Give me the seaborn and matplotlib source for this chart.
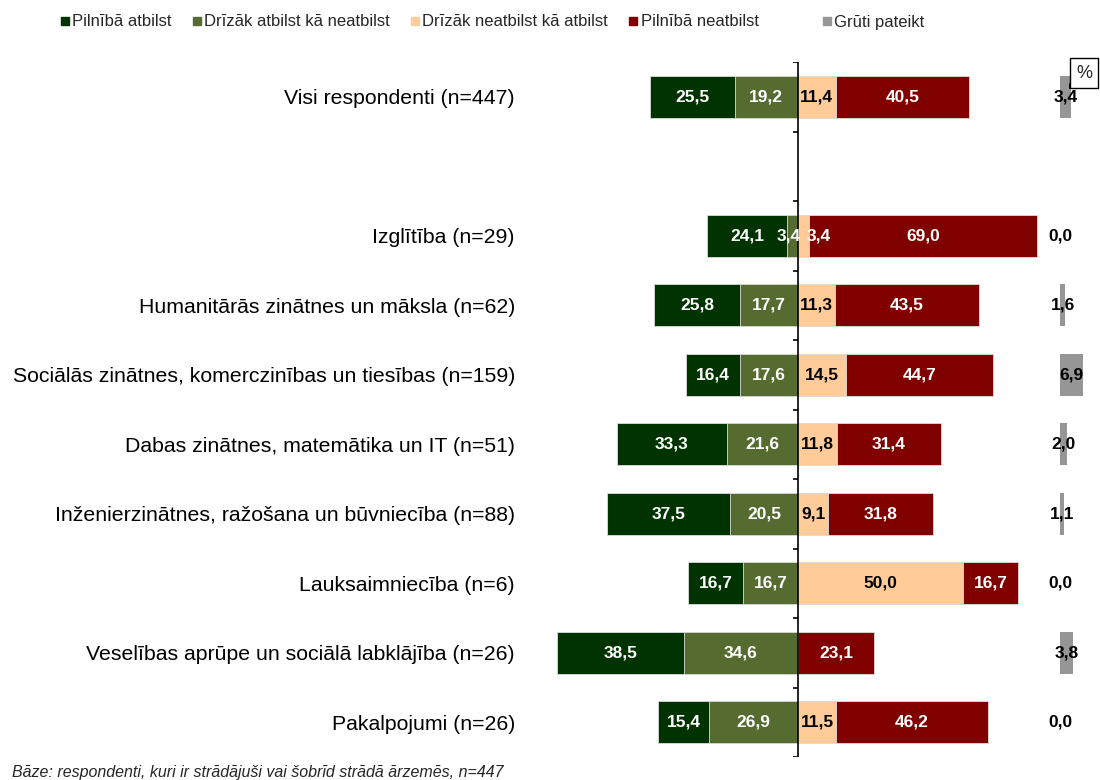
import numpy as np
import matplotlib
matplotlib.use('Agg')
import matplotlib.pyplot as plt
from matplotlib.lines import Line2D
import pandas as pd
import seaborn as sns

groups = ['Visi respondenti (n=447)', ' ', 'Izglītība (n=29)',
          'Humanitārās zinātnes un māksla (n=62)',
          'Sociālās zinātnes, komerczinības un tiesības (n=159)',
          'Dabas zinātnes, matemātika un IT (n=51)',
          'Inženierzinātnes, ražošana un būvniecība (n=88)',
          'Lauksaimniecība (n=6)',
          'Veselības aprūpe un sociālā labklājība (n=26)',
          'Pakalpojumi (n=26)']
full_yes = [25.5, np.nan, 24.1, 25.8, 16.4, 33.3, 37.5, 16.7, 38.5, 15.4]
rather_yes = [19.2, np.nan, 3.4, 17.7, 17.6, 21.6, 20.5, 16.7, 34.6, 26.9]
rather_no = [11.4, np.nan, 3.4, 11.3, 14.5, 11.8, 9.1, 50.0, 0.0, 11.5]
full_no = [40.5, np.nan, 69.0, 43.5, 44.7, 31.4, 31.8, 16.7, 23.1, 46.2]
hard_say = [3.4, np.nan, 0.0, 1.6, 6.9, 2.0, 1.1, 0.0, 3.8, 0.0]

legend_labels = ['Pilnībā atbilst', 'Drīzāk atbilst kā neatbilst',
                 'Drīzāk neatbilst kā atbilst', 'Pilnībā neatbilst', 'Grūti pateikt']
colors = ['#003300', '#556B2F', '#FFCC99', '#800000', '#969696']

sns.set_style('white')
plt.rcParams['font.family'] = ['Liberation Sans', 'DejaVu Sans']

df = pd.DataFrame({'group': groups, 'full_yes': full_yes, 'rather_yes': rather_yes,
                   'rather_no': rather_no, 'full_no': full_no, 'hard': hard_say})
df['left_total'] = -(df['full_yes'] + df['rather_yes'])
df['left_inner'] = -df['rather_yes']
df['right_total'] = df['rather_no'] + df['full_no']

W, H = 1100, 780
fig = plt.figure(figsize=(11, 7.8), dpi=100)
px = 3.3  # pixels per percent
ax_l, ax_r, zero_px = 540, 1050, 798
top_px, bot_px = 62, 757
ax = fig.add_axes([ax_l / W, 1 - bot_px / H, (ax_r - ax_l) / W, (bot_px - top_px) / H])

bar_kw = dict(y='group', order=groups, orient='h', width=0.6, saturation=1,
              errorbar=None, edgecolor='#dddddd', linewidth=0.6, ax=ax)
sns.barplot(data=df, x='left_total', color=colors[0], **bar_kw)
sns.barplot(data=df, x='left_inner', color=colors[1], **bar_kw)
sns.barplot(data=df, x='right_total', color=colors[3], **bar_kw)
sns.barplot(data=df, x='rather_no', color=colors[2], **bar_kw)

ax.set_xlim(-(zero_px - ax_l) / px, (ax_r - zero_px) / px)
ax.set_ylim(len(groups) - 0.5, -0.5)
ax.set_xlabel('')
ax.set_ylabel('')
ax.set_xticks([])
ax.tick_params(axis='y', length=0, pad=18, labelsize=15.3, labelcolor='black')
for s in ax.spines.values():
    s.set_visible(False)

ax.axvline(0, color='black', lw=1.2, zorder=10)
ax.hlines(np.arange(-0.5, len(groups)), -1.6, 0, color='black', lw=1.2, zorder=10)


def fmt(v):
    return f'{v:.1f}'.replace('.', ',')


lab_kw = dict(va='center', fontsize=12.5, fontweight='bold', zorder=11)
for i, r in df.iterrows():
    if np.isnan(r['full_yes']):
        continue
    narrow = r['rather_yes'] < 5 and r['rather_no'] < 5
    if r['full_yes'] > 0:
        ax.text(-(r['rather_yes'] + r['full_yes'] / 2), i, fmt(r['full_yes']),
                color='white', ha='center', **lab_kw)
    if r['rather_yes'] > 0:
        if narrow:
            ax.text(0.9, i, fmt(r['rather_yes']), color='white', ha='right', **lab_kw)
        else:
            ax.text(-r['rather_yes'] / 2, i, fmt(r['rather_yes']), color='white', ha='center', **lab_kw)
    if r['rather_no'] > 0:
        if narrow:
            ax.text(r['rather_no'] * 0.8, i, fmt(r['rather_no']), color='white', ha='left', **lab_kw)
        else:
            ax.text(r['rather_no'] / 2, i, fmt(r['rather_no']), color='black', ha='center', **lab_kw)
    if r['full_no'] > 0:
        ax.text(r['rather_no'] + r['full_no'] / 2, i, fmt(r['full_no']),
                color='white', ha='center', **lab_kw)

# "Grūti pateikt" column on its own axes with the same scale
g_l = 1060
ax2 = fig.add_axes([g_l / W, 1 - bot_px / H, (W - g_l) / W, (bot_px - top_px) / H], sharey=ax)
sns.barplot(data=df, x='hard', color=colors[4], y='group', order=groups, orient='h',
            width=0.6, saturation=1, errorbar=None, linewidth=0, ax=ax2)
ax2.set_xlim(0, (W - g_l) / px)
ax2.set_axis_off()
for i, r in df.iterrows():
    if np.isnan(r['hard']):
        continue
    ax2.text(r['hard'] / 2, i, fmt(r['hard']), color='black', ha='center',
             clip_on=False, **lab_kw)

# legend
handles = [Line2D([], [], marker='s', ls='', markersize=5.5, color=c) for c in colors]
leg_kw = dict(frameon=False, fontsize=12, handletextpad=0.05, handlelength=0.8,
              borderaxespad=0, borderpad=0)
fig.legend(handles[:4], legend_labels[:4], loc='center left', ncol=4,
           bbox_to_anchor=(58 / W, 1 - 22 / H), columnspacing=1.1, **leg_kw)
fig.legend(handles[4:], legend_labels[4:], loc='center left',
           bbox_to_anchor=(820 / W, 1 - 22 / H), **leg_kw)

# "%" box
fig.text(1084 / W, 1 - 73 / H, '%', ha='center', va='center', fontsize=13,
         bbox=dict(boxstyle='square,pad=0.35', fc='white', ec='black', lw=1))
fig.add_artist(Line2D([1069 / W, 1 - 1 / W], [1 - 86 / H, 1 - 86 / H], color='black',
                      lw=4, solid_capstyle='butt'))

fig.text(12 / W, 1 - 777 / H, 'Bāze: respondenti, kuri ir strādājuši vai šobrīd strādā ārzemēs, n=447',
         fontsize=11.5, fontstyle='italic', va='baseline', ha='left')

fig.savefig('out.png', dpi=100)
